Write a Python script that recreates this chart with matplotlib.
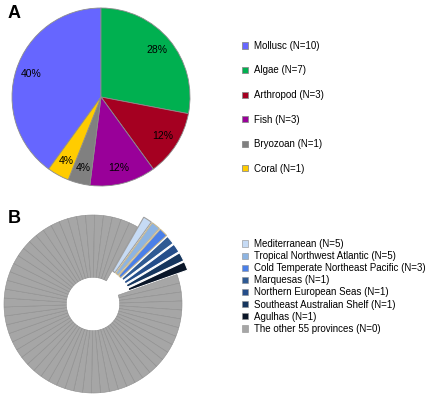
import matplotlib.pyplot as plt

plt.rcParams['font.family'] = ['Liberation Sans', 'DejaVu Sans']

# panel A: taxa
taxa = ['Mollusc', 'Algae', 'Arthropod', 'Fish', 'Bryozoan', 'Coral']
taxa_n = [10, 7, 3, 3, 1, 1]
taxa_colors = ['#6666FF', '#00B050', '#A50021', '#990099', '#808080', '#FFCC00']

# panel B: provinces
provinces = ['Mediterranean', 'Tropical Northwest Atlantic',
             'Cold Temperate Northeast Pacific', 'Marquesas',
             'Northern European Seas', 'Southeast Australian Shelf', 'Agulhas']
province_n = [5, 5, 3, 1, 1, 1, 1]
province_colors = ['#C6DBF5', '#8DB4E2', '#4A7FE8', '#2F5A93',
                   '#254E8A', '#16365E', '#0A1628']
n_other = 55
other_color = '#A6A6A6'

W, H = 431, 397
fig = plt.figure(figsize=(W / 100, H / 100), dpi=100)


def px_axes(cx, cy, r, lim):
    # axes centred at pixel (cx, cy) where data radius 1 == r px
    half = r * lim
    ax = fig.add_axes([(cx - half) / W, (H - cy - half) / H, 2 * half / W, 2 * half / H])
    ax.set_xlim(-lim, lim)
    ax.set_ylim(-lim, lim)
    ax.set_aspect('equal')
    ax.axis('off')
    return ax


# ---- A ----
axA = px_axes(101, 97, 89, 1.05)
wedgesA, _, pcts = axA.pie(taxa_n, colors=taxa_colors, startangle=234, counterclock=False,
                           autopct='%1.0f%%', pctdistance=0.82,
                           wedgeprops=dict(edgecolor='#8C8C8C', linewidth=0.6),
                           textprops=dict(fontsize=7.5, color='black'))
axA.set_xlim(-1.05, 1.05)
axA.set_ylim(-1.05, 1.05)

fig.legend(wedgesA, [f'{t} (N={n})' for t, n in zip(taxa, taxa_n)],
           loc='upper left', bbox_to_anchor=(238 / W, 1 - 37 / H), frameon=False,
           fontsize=7, labelspacing=1.5, handlelength=0.6, handleheight=0.6,
           handletextpad=0.6, borderaxespad=0)

# ---- B ----
axB = px_axes(93, 304, 89, 1.25)
sizes = [1] * (len(provinces) + n_other)
colorsB = province_colors + [other_color] * n_other
explode = [0.13] * len(provinces) + [0] * n_other
wedgesB, _ = axB.pie(sizes, colors=colorsB, startangle=60, counterclock=False,
                     explode=explode,
                     wedgeprops=dict(width=0.7, edgecolor='#8E8E8E', linewidth=0.4))
axB.set_xlim(-1.25, 1.25)
axB.set_ylim(-1.25, 1.25)

labelsB = [f'{p} (N={n})' for p, n in zip(provinces, province_n)]
labelsB.append(f'The other {n_other} provinces (N=0)')
fig.legend(wedgesB[:len(provinces) + 1], labelsB,
           loc='upper left', bbox_to_anchor=(238 / W, 1 - 235 / H), frameon=False,
           fontsize=7, labelspacing=0.22, handlelength=0.6, handleheight=0.6,
           handletextpad=0.6, borderaxespad=0)

# separator lines on the pulled-out slices
edge_hi = ['#A0A0A0', '#C8B890', '#C8B890', 'white', 'white', 'white', 'white']
for w, ec in zip(wedgesB, edge_hi):
    w.set_edgecolor(ec)
    w.set_linewidth(0.8)

fig.text(8 / W, 1 - 5 / H, 'A', fontsize=13, fontweight='bold', va='top')
fig.text(8 / W, 1 - 210 / H, 'B', fontsize=13, fontweight='bold', va='top')

fig.savefig('out.png', dpi=100)
